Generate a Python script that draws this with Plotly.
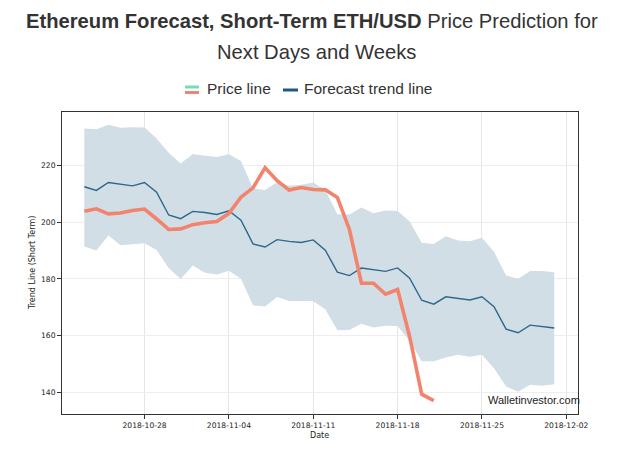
import plotly.graph_objects as go
import pandas as pd

# ---- data ----
forecast_dates = pd.date_range("2018-10-23", periods=40, freq="D")
price_dates = pd.date_range("2018-10-23", periods=30, freq="D")

forecast = [212.6, 211.3, 214.1, 213.5, 212.9, 214.1, 210.7, 202.6, 201.3, 203.9,
            203.5, 202.8, 204.1, 200.8, 192.4, 191.3, 193.9, 193.3, 192.9, 193.8,
            190.2, 182.4, 181.2, 183.9, 183.3, 182.7, 183.9, 180.3, 172.5, 171.1,
            173.7, 173.2, 172.6, 173.7, 170.2, 162.3, 161.0, 163.7, 163.2, 162.7]
upper = [233.2, 232.9, 234.5, 233.4, 233.6, 233.5, 229.6, 224.6, 220.8, 224.2,
         223.5, 223.1, 224.1, 221.7, 212.0, 211.4, 214.2, 212.9, 213.3, 214.1,
         211.4, 202.9, 202.8, 205.3, 203.2, 204.2, 204.0, 200.3, 192.8, 192.4,
         195.1, 193.6, 193.3, 194.6, 189.6, 181.2, 180.1, 182.8, 182.8, 182.4]
lower = [191.5, 190.1, 195.4, 191.9, 192.3, 192.6, 190.2, 183.9, 180.0, 184.8,
         182.2, 181.6, 182.9, 180.1, 170.7, 170.3, 173.6, 172.2, 172.2, 172.1,
         169.3, 161.9, 162.0, 164.2, 162.9, 163.5, 163.4, 158.1, 150.9, 150.9,
         152.3, 153.2, 152.5, 153.2, 148.5, 142.0, 140.2, 142.6, 142.3, 142.8]
price = [203.9, 204.8, 203.0, 203.3, 204.2, 204.7, 201.2, 197.5, 197.7, 199.2,
         199.9, 200.3, 203.2, 208.9, 212.2, 219.3, 214.7, 211.4, 212.3, 211.6,
         211.5, 208.8, 197.5, 178.5, 178.5, 174.6, 176.3, 159.6, 139.3, 137.0]

x_ticks = ["2018-10-28", "2018-11-04", "2018-11-11", "2018-11-18", "2018-11-25", "2018-12-02"]
y_ticks = [140, 160, 180, 200, 220]

# ---- layout geometry (pixels) ----
W, H = 630, 452
L, R, T, B = 62, 578, 112, 414


def px(x):
    return (x - L) / (R - L)


def py(y):
    return (B - y) / (B - T)


BAND = "rgb(209,222,230)"
BLUE = "#2B688B"
SALMON = "#F2836D"
GREEN = "#72DDBF"

fig = go.Figure()
fig.add_trace(go.Scatter(x=forecast_dates, y=lower, mode="lines",
                         line=dict(width=0, color=BAND), showlegend=False, hoverinfo="skip"))
fig.add_trace(go.Scatter(x=forecast_dates, y=upper, mode="lines", fill="tonexty",
                         fillcolor=BAND, line=dict(width=0, color=BAND),
                         showlegend=False, hoverinfo="skip"))
fig.add_trace(go.Scatter(x=forecast_dates, y=forecast, mode="lines",
                         line=dict(color=BLUE, width=1.4), name="Forecast trend line",
                         showlegend=False))
fig.add_trace(go.Scatter(x=price_dates, y=price, mode="lines",
                         line=dict(color=SALMON, width=3.6), name="Price line",
                         showlegend=False))

tickfont = dict(family="DejaVu Sans", size=7.6, color="#222")
fig.update_xaxes(type="date", range=["2018-10-21 03:34", "2018-12-02 23:17"],
                 tickvals=x_ticks, ticktext=x_ticks, tickfont=tickfont,
                 ticks="outside", ticklen=4, tickcolor="#333", tickwidth=1,
                 showgrid=True, gridcolor="#E6E6E6", gridwidth=1,
                 showline=True, linecolor="#333", linewidth=1, mirror=True,
                 zeroline=False)
fig.update_yaxes(range=[132.3, 239.0], tickvals=y_ticks, tickfont=tickfont,
                 ticks="outside", ticklen=4, tickcolor="#333", tickwidth=1,
                 showgrid=True, gridcolor="#EEEEEE", gridwidth=1,
                 showline=True, linecolor="#333", linewidth=1, mirror=True,
                 zeroline=False)

ann = []
tfont = dict(family="Liberation Sans, Arial, sans-serif", size=20.2, color="#333")
ann.append(dict(text="<b>Ethereum Forecast, Short-Term ETH/USD</b> Price Prediction for",
                x=px(312), y=py(21), xref="paper", yref="paper", showarrow=False,
                xanchor="center", yanchor="middle", font=tfont))
ann.append(dict(text="Next Days and Weeks",
                x=px(316), y=py(52), xref="paper", yref="paper", showarrow=False,
                xanchor="center", yanchor="middle", font=tfont))
lfont = dict(family="Liberation Sans, Arial, sans-serif", size=15.5, color="#333")
ann.append(dict(text="Price line", x=px(205), y=py(89), xref="paper", yref="paper",
                showarrow=False, xanchor="left", yanchor="middle", font=lfont))
ann.append(dict(text="Forecast trend line", x=px(302), y=py(89), xref="paper", yref="paper",
                showarrow=False, xanchor="left", yanchor="middle", font=lfont))
afont = dict(family="DejaVu Sans", size=8, color="#222")
ann.append(dict(text="Trend Line (Short Term)", x=px(32), y=py(263), xref="paper", yref="paper",
                showarrow=False, xanchor="center", yanchor="middle", textangle=-90, font=afont))
ann.append(dict(text="Date", x=px(319), y=py(435), xref="paper", yref="paper",
                showarrow=False, xanchor="center", yanchor="middle", font=afont))
ann.append(dict(text="Walletinvestor.com", x=px(582), y=py(400), xref="paper", yref="paper",
                showarrow=False, xanchor="right", yanchor="middle",
                font=dict(family="Liberation Sans, Arial, sans-serif", size=11, color="#222")))

shapes = [
    dict(type="line", xref="paper", yref="paper", x0=px(185), x1=px(199), y0=py(87), y1=py(87),
         line=dict(color=GREEN, width=3)),
    dict(type="line", xref="paper", yref="paper", x0=px(185), x1=px(199), y0=py(92.5), y1=py(92.5),
         line=dict(color=SALMON, width=3)),
    dict(type="line", xref="paper", yref="paper", x0=px(283), x1=px(298), y0=py(90), y1=py(90),
         line=dict(color="#1F5883", width=3)),
]

fig.update_layout(width=W, height=H, autosize=False,
                  margin=dict(l=L, r=W - R, t=T, b=H - B, pad=0),
                  paper_bgcolor="white", plot_bgcolor="white",
                  annotations=ann, shapes=shapes, showlegend=False)

fig.write_html("out.html")
